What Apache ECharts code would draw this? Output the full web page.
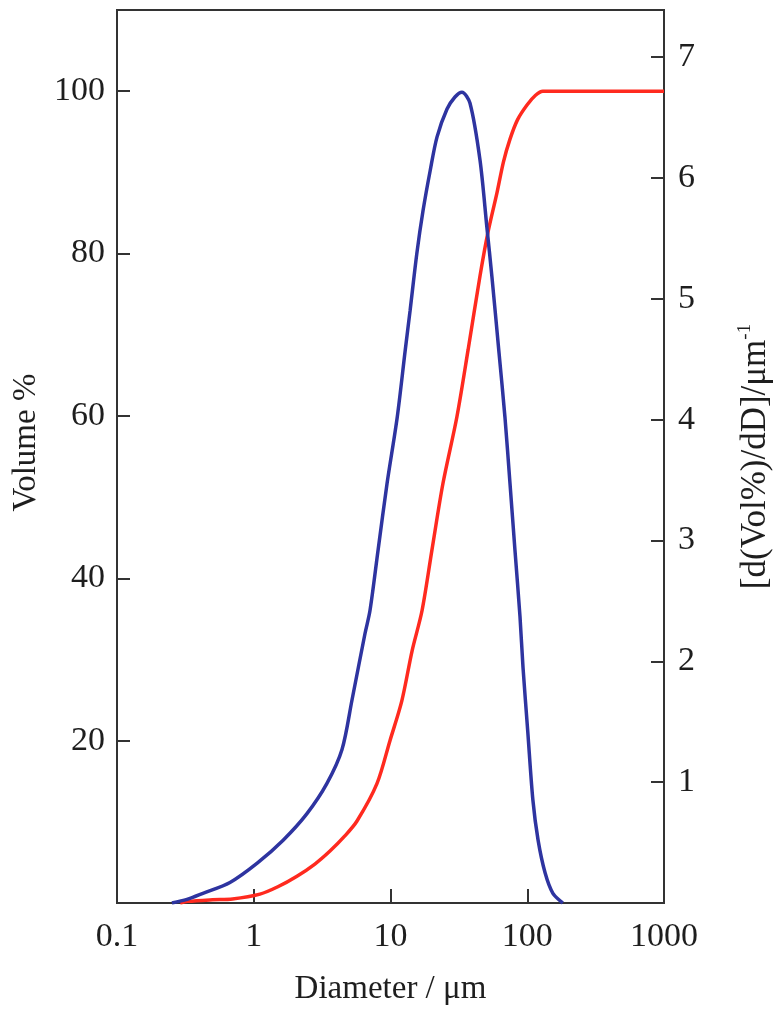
<!DOCTYPE html>
<html>
<head>
<meta charset="utf-8">
<script src="https://cdn.jsdelivr.net/npm/echarts@6/dist/echarts.min.js"></script>
<style>
  html, body { margin: 0; padding: 0; background: #fff; }
  #main { width: 781px; height: 1015px; }
</style>
</head>
<body>
<div id="main"></div>
<script>
// cumulative volume % (left axis)
let cumDiameter = [0.29, 0.33, 0.5, 0.7, 1.11, 1.5, 2.07, 2.8, 3.61, 4.6, 5.69, 7.96, 9.91, 12.1, 14.4, 17.0, 20.1, 24.2, 30.6, 36.9, 45.1, 51.6, 60.1, 67, 74.8, 85, 99.6, 115, 130, 1000];
let cumVolume = [0, 0.2, 0.4, 0.5, 1.1, 2.0, 3.3, 4.8, 6.4, 8.2, 10.1, 14.7, 20.0, 24.9, 31.1, 36.0, 43.5, 51.7, 59.9, 68.1, 77.2, 82.6, 87.5, 91.3, 94.1, 96.5, 98.3, 99.5, 100, 100];

// differential distribution (right axis)
let diffDiameter = [0.252, 0.325, 0.425, 0.67, 1.06, 1.64, 2.45, 3.43, 4.42, 5.23, 6.51, 7.08, 8.11, 9.43, 11.2, 12.8, 13.9, 15.6, 17.3, 19.5, 21.9, 25.9, 29.6, 33.3, 38.1, 45.1, 50.7, 55.2, 62.2, 68.7, 74.8, 81.3, 88.5, 93.1, 101, 110, 120, 135, 154, 182];
let diffValue = [0, 0.03, 0.08, 0.17, 0.33, 0.52, 0.74, 0.99, 1.27, 1.68, 2.23, 2.42, 2.92, 3.47, 4.02, 4.57, 4.90, 5.38, 5.73, 6.06, 6.34, 6.57, 6.67, 6.71, 6.62, 6.15, 5.59, 5.18, 4.55, 4.02, 3.47, 2.92, 2.37, 1.95, 1.41, 0.85, 0.52, 0.25, 0.08, 0];

let xTicks = [0.1, 1, 10, 100, 1000];

let myChart = echarts.init(document.getElementById("main"));

let cumData = [];
for (let i = 0; i < cumDiameter.length; i++) {
  cumData.push([cumDiameter[i], cumVolume[i]]);
}
let diffData = [];
for (let i = 0; i < diffDiameter.length; i++) {
  diffData.push([diffDiameter[i], diffValue[i]]);
}

let font = "Liberation Serif";
let axisColor = "#333333";
let textColor = "#1e1e1e";

let option = {
  backgroundColor: "#ffffff",
  animation: false,
  grid: {
    left: 117,
    right: 117,
    top: 10,
    bottom: 112,
    outerBoundsMode: "none",
    containLabel: false,
    show: true,
    borderColor: axisColor,
    borderWidth: 2,
  },
  xAxis: {
    type: "log",
    logBase: 10,
    min: 0.1,
    max: 1000,
    name: "Diameter / μm",
    nameLocation: "middle",
    nameGap: 70,
    nameTextStyle: { fontFamily: font, fontSize: 33, color: textColor },
    axisLine: { lineStyle: { color: axisColor, width: 2 } },
    axisTick: { inside: true, length: 14, lineStyle: { color: axisColor, width: 2 } },
    axisLabel: {
      fontFamily: font,
      fontSize: 34,
      color: textColor,
      margin: 17,
      formatter: function (v) {
        for (let i = 0; i < xTicks.length; i++) {
          if (Math.abs(v - xTicks[i]) < xTicks[i] * 0.01) return String(xTicks[i]);
        }
        return "";
      },
    },
    splitLine: { show: false },
    minorTick: { show: false },
  },
  yAxis: [
    {
      type: "value",
      min: 0,
      max: 110,
      interval: 20,
      position: "left",
      name: "Volume %",
      nameLocation: "middle",
      nameGap: 74,
      nameTextStyle: { fontFamily: font, fontSize: 33, color: textColor, padding: [0, 0, 0, 28] },
      axisLine: { show: true, lineStyle: { color: axisColor, width: 2 } },
      axisTick: { show: true, inside: true, length: 13, lineStyle: { color: axisColor, width: 2 } },
      axisLabel: { fontFamily: font, fontSize: 34, color: textColor, margin: 12, showMinLabel: false, showMaxLabel: false },
      splitLine: { show: false },
    },
    {
      type: "value",
      min: 0,
      max: 7.39,
      interval: 1,
      position: "right",
      name: "[d(Vol%)/dD]/μm{sup|-1}",
      nameLocation: "middle",
      nameGap: 72,
      nameTextStyle: {
        fontFamily: font,
        fontSize: 35,
        color: textColor,
        rich: {
          sup: { fontFamily: font, fontSize: 19, color: textColor, verticalAlign: "top", padding: [0, 0, 20, 0] },
        },
      },
      axisLine: { show: true, lineStyle: { color: axisColor, width: 2 } },
      axisTick: { show: true, inside: true, length: 13, lineStyle: { color: axisColor, width: 2 } },
      axisLabel: { fontFamily: font, fontSize: 34, color: textColor, margin: 14, showMinLabel: false, showMaxLabel: false },
      splitLine: { show: false },
    },
  ],
  series: [
    {
      type: "line",
      name: "Cumulative",
      yAxisIndex: 0,
      data: cumData,
      smooth: 0.3,
      symbol: "none",
      lineStyle: { color: "#ff2a1f", width: 3.5 },
    },
    {
      type: "line",
      name: "Differential",
      yAxisIndex: 1,
      data: diffData,
      smooth: 0.3,
      symbol: "none",
      lineStyle: { color: "#2e34a0", width: 3.5 },
    },
  ],
};

myChart.setOption(option);
</script>
</body>
</html>
